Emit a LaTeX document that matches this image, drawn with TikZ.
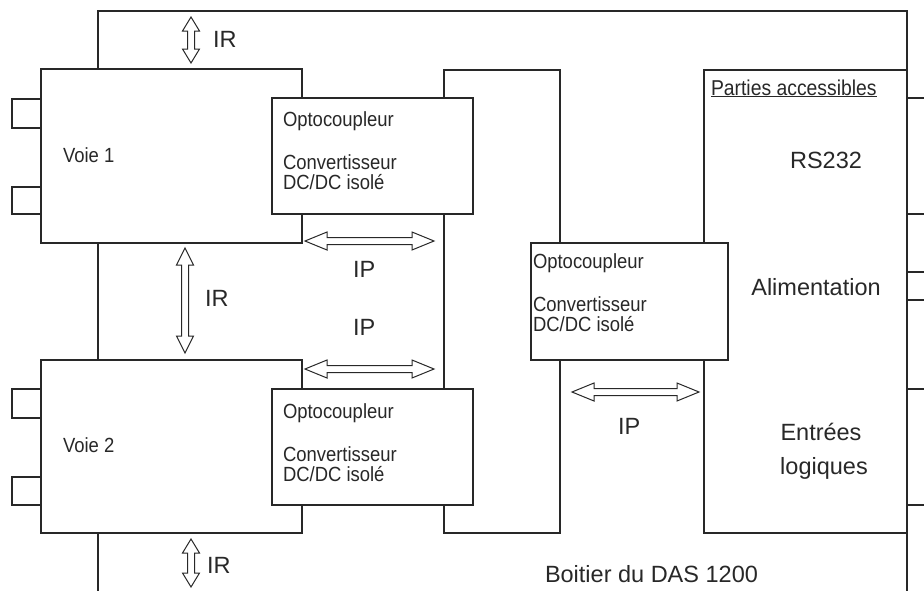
\documentclass[tikz,border=0pt]{standalone}
\usepackage{fontspec}
\setmainfont{Liberation Sans}
\newfontfamily\narrowsans[FakeStretch=0.9]{Liberation Sans}
\definecolor{lc}{RGB}{40,40,40}
\begin{document}
\begin{tikzpicture}[x=1pt,y=-1pt,line width=1.1pt,
  every node/.style={inner sep=0pt,outer sep=0pt,text=lc},
  box/.style={draw=lc,fill=white,anchor=north west},
  small/.style={font=\narrowsans\fontsize{20.5}{24}\selectfont},
  big/.style={font=\fontsize{23.5}{28}\selectfont},
  arr/.style={draw=lc,fill=white,line width=1pt,line join=miter},
  pics/hdarr/.style 2 args={code={
    \draw[arr] (-#1,0) -- (-#1+#2,-9) -- (-#1+#2,-3.5) -- (#1-#2,-3.5) -- (#1-#2,-9) -- (#1,0)
      -- (#1-#2,9) -- (#1-#2,3.5) -- (-#1+#2,3.5) -- (-#1+#2,9) -- cycle;}},
  pics/vdarr/.style 2 args={code={
    \draw[arr] (0,-#1) -- (-8.5,-#1+#2) -- (-3.5,-#1+#2) -- (-3.5,#1-#2) -- (-8.5,#1-#2) -- (0,#1)
      -- (8.5,#1-#2) -- (3.5,#1-#2) -- (3.5,-#1+#2) -- (8.5,-#1+#2) -- cycle;}}
  ]
\useasboundingbox (0,0) rectangle (924,590);
\clip (0,0) rectangle (924,590);

% outer case outline
\coordinate (otl) at (98,11);
\coordinate (otr) at (907,11);
\coordinate (obl) at (98,596);
\coordinate (obr) at (907,596);
\draw[lc] (obl) -- (otl) -- (otr) -- (obr);

% middle column and accessible part
\node[box,minimum width=116,minimum height=463] (midcol) at (444,70) {};
\node[box,minimum width=203,minimum height=463] (rcol) at (704,70) {};

% right connectors
\node[box,minimum width=40,minimum height=116] (crs) at (907,98) {};
\node[box,minimum width=40,minimum height=28] (calim) at (907,272) {};
\node[box,minimum width=40,minimum height=116] (cent) at (907,389) {};

% left connectors
\node[box,minimum width=29,minimum height=29] (c1a) at (12,99) {};
\node[box,minimum width=29,minimum height=27] (c1b) at (12,187) {};
\node[box,minimum width=29,minimum height=29] (c2a) at (12,389) {};
\node[box,minimum width=29,minimum height=28] (c2b) at (12,477) {};

% channels
\node[box,minimum width=261,minimum height=174] (voie1) at (41,69) {};
\node[box,minimum width=261,minimum height=173] (voie2) at (41,360) {};

% optocoupler boxes
\node[box,minimum width=201,minimum height=116] (opto1) at (272,98) {};
\node[box,minimum width=201,minimum height=116] (opto2) at (272,389) {};
\node[box,minimum width=197,minimum height=117] (opto3) at (531,243) {};

% texts
\node[small,anchor=base west] (tv1) at (63,162) {Voie 1};
\node[small,anchor=base west] (tv2) at (63,452) {Voie 2};

\node[small,anchor=base west] (o1a) at (283,126) {Optocoupleur};
\node[small,anchor=base west] (o1b) at (283,169) {Convertisseur};
\node[small,anchor=base west] (o1c) at (283,189) {DC/DC isolé};

\node[small,anchor=base west] (o2a) at (283,418) {Optocoupleur};
\node[small,anchor=base west] (o2b) at (283,461) {Convertisseur};
\node[small,anchor=base west] (o2c) at (283,481) {DC/DC isolé};

\node[small,anchor=base west] (o3a) at (533,268) {Optocoupleur};
\node[small,anchor=base west] (o3b) at (533,311) {Convertisseur};
\node[small,anchor=base west] (o3c) at (533,331) {DC/DC isolé};

\node[font=\narrowsans\fontsize{21.5}{24}\selectfont,anchor=base west] (tpa) at (711,95) {\underline{Parties accessibles}};
\node[big,anchor=base] (trs) at (826,168) {RS232};
\node[big,anchor=base] (tal) at (816,295) {Alimentation};
\node[big,anchor=base] (ten) at (821,440) {Entrées};
\node[big,anchor=base] (tlo) at (824,474) {logiques};
\node[big,anchor=base west] (tbo) at (545,582) {Boitier du DAS 1200};

\node[big,anchor=base west] (ir1) at (213,47) {IR};
\node[big,anchor=base west] (ir2) at (205,306) {IR};
\node[big,anchor=base west] (ir3) at (207,573) {IR};
\node[big,anchor=base west] (ip1) at (353,277) {IP};
\node[big,anchor=base west] (ip2) at (353,335) {IP};
\node[big,anchor=base west] (ip3) at (618,434) {IP};

% arrows
\pic (air1) at (191,40) {vdarr={23}{14}};
\pic (air2) at (185,300.5) {vdarr={52.5}{17}};
\pic (air3) at (191,563) {vdarr={24}{14}};
\pic (aip1) at (369.5,241) {hdarr={64.5}{22}};
\pic (aip2) at (369.5,369) {hdarr={64.5}{22}};
\pic (aip3) at (635.5,392) {hdarr={63.5}{22}};
\end{tikzpicture}
\end{document}
